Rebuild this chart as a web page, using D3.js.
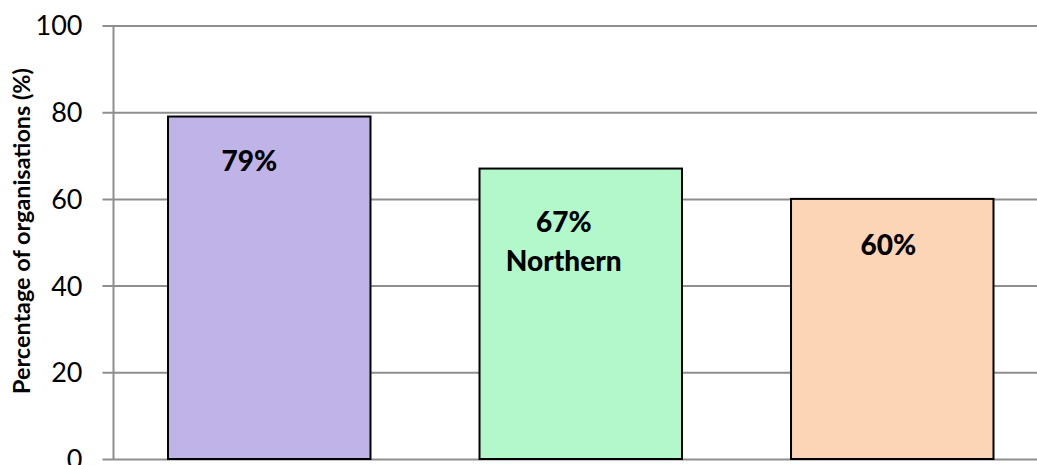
<!DOCTYPE html>
<html>
<head>
<meta charset="utf-8">
<script src="https://cdn.jsdelivr.net/npm/d3@7"></script>
<style>
  html, body { margin: 0; padding: 0; background: #ffffff; overflow: hidden; }
  svg { display: block; }
</style>
</head>
<body>
<svg id="chart" width="1037" height="465"></svg>
<script>
// Share of organisations by region
const categories = ["A", "B", "C"];
const values = [79, 67, 60];
const valueLabels = ["79%", "67%\nNorthern", "60%"];
const barColors = ["#c0b3e7", "#b3f8cb", "#fcd5b6"];
const yTicks = [0, 20, 40, 60, 80, 100];
const yTitle = "Percentage of organisations (%)";

// label placement relative to each bar's top-centre
const labelOffsets = [[-20, 45], [-17, 54], [-4, 46]];

const W = 1037, H = 465;
const margin = { left: 113.5, top: 25.5, bottom: 6 };
const plotRight = 1048;

const svg = d3.select("#chart");
const font = "Lato, 'Open Sans', sans-serif";

const x = d3.scaleBand()
  .domain(categories)
  .range([margin.left, plotRight])
  .paddingInner(0.35)
  .paddingOuter(0.175);

const y = d3.scaleLinear()
  .domain([0, 100])
  .range([H - margin.bottom, margin.top]);

// horizontal gridlines with ticks sticking out to the left
const yAxis = d3.axisLeft(y)
  .tickValues(yTicks)
  .tickSize(-(plotRight - margin.left))
  .tickPadding(0);

const gy = svg.append("g")
  .attr("transform", `translate(${margin.left},0)`)
  .call(yAxis);
gy.select(".domain").remove();
gy.selectAll(".tick line")
  .attr("x1", -11)
  .attr("stroke", "#8e8e8e")
  .attr("stroke-width", 2);
gy.selectAll(".tick text")
  .attr("x", -31)
  .attr("dy", "0.35em")
  .attr("fill", "#000")
  .style("font-family", font)
  .style("font-size", "27px");

// vertical axis line
svg.append("line")
  .attr("x1", margin.left).attr("x2", margin.left)
  .attr("y1", y(100)).attr("y2", y(0))
  .attr("stroke", "#8e8e8e")
  .attr("stroke-width", 2);

// bars
svg.append("g")
  .selectAll("rect")
  .data(values)
  .join("rect")
  .attr("x", (d, i) => x(categories[i]))
  .attr("y", d => y(d))
  .attr("width", x.bandwidth())
  .attr("height", d => y(0) - y(d))
  .attr("fill", (d, i) => barColors[i])
  .attr("stroke", "#000")
  .attr("stroke-width", 2);

// value labels
const labels = svg.append("g")
  .selectAll("text")
  .data(values)
  .join("text")
  .attr("text-anchor", "middle")
  .attr("fill", "#000")
  .style("font-family", font)
  .style("font-weight", "900")
  .style("font-size", "28px");

labels.each(function (d, i) {
  const lines = valueLabels[i].split("\n");
  const cx = x(categories[i]) + x.bandwidth() / 2 + labelOffsets[i][0];
  const cy = y(d) + labelOffsets[i][1];
  const lh = 39;
  d3.select(this).selectAll("tspan")
    .data(lines)
    .join("tspan")
    .attr("x", cx)
    .attr("y", (t, k) => cy + k * lh)
    .attr("dy", "0.35em")
    .text(t => t);
});

// y-axis title, sized to run the height of the gridded area
const title = svg.append("text")
  .attr("transform", `translate(22,231) rotate(-90)`)
  .attr("text-anchor", "middle")
  .attr("dy", "0.35em")
  .attr("fill", "#000")
  .style("font-family", font)
  .style("font-weight", "bold")
  .style("font-size", "18px")
  .text(yTitle);
const titleLen = title.node().getComputedTextLength();
title.style("font-size", (18 * 326 / titleLen).toFixed(2) + "px");
</script>
</body>
</html>
